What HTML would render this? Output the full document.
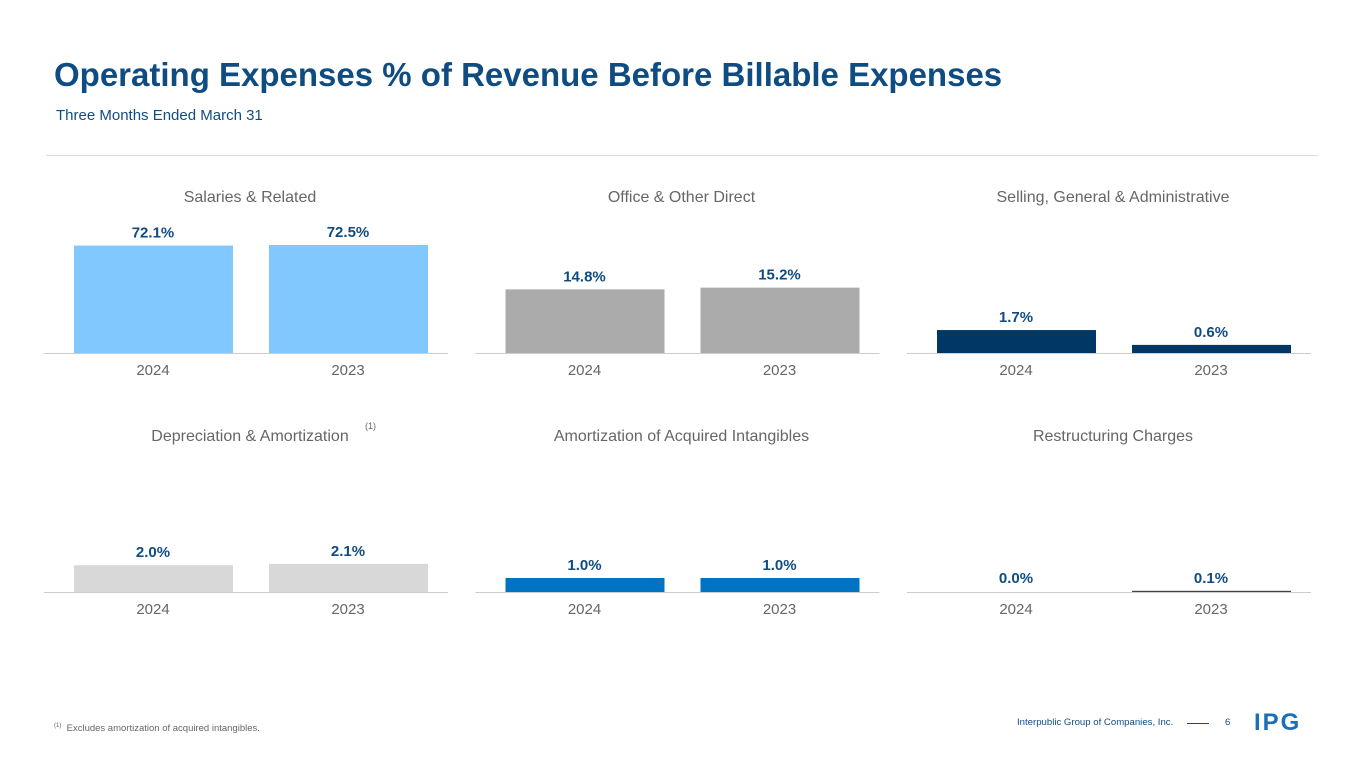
<!DOCTYPE html>
<html><head><meta charset="utf-8"><style>
body{margin:0;width:1365px;height:768px;background:#fff;font-family:"Liberation Sans",sans-serif;position:relative;overflow:hidden}
.abs{position:absolute}
</style></head><body>
<div class="abs" style="left:54px;top:56px;font-size:33px;font-weight:bold;color:#0f4c81;white-space:nowrap">Operating Expenses % of Revenue Before Billable Expenses</div>
<div class="abs" style="left:56px;top:107px;font-size:15px;color:#0f4c81">Three Months Ended March 31</div>
<div class="abs" style="left:46px;top:155px;width:1272px;height:1px;background:#ddd"></div>
<svg id="charts" class="abs" style="left:0;top:0" width="1365" height="768"></svg>
<div class="abs" style="left:54px;top:723px;font-size:9.5px;color:#666;white-space:nowrap"><sup style="font-size:6px">(1)</sup>&nbsp; Excludes amortization of acquired intangibles.</div>
<div class="abs" style="left:1017px;top:717px;font-size:9.6px;color:#0f4c81;white-space:nowrap">Interpublic Group of Companies, Inc.</div>
<div class="abs" style="left:1187px;top:723px;width:22px;height:1px;background:#0f4c81"></div>
<div class="abs" style="left:1225px;top:717px;font-size:9.6px;color:#0f4c81">6</div>
<div class="abs" style="left:1254px;top:709px;font-size:24px;font-weight:bold;color:#1a6fb8;letter-spacing:2px">IPG</div>
<script>
const titles=["Salaries & Related","Office & Other Direct","Selling, General & Administrative","Depreciation & Amortization","Amortization of Acquired Intangibles","Restructuring Charges"];
const years=["2024","2023"];
const v2024=[72.1,14.8,1.7,2.0,1.0,0.0];
const v2023=[72.5,15.2,0.6,2.1,1.0,0.1];
const labels2024=["72.1%","14.8%","1.7%","2.0%","1.0%","0.0%"];
const labels2023=["72.5%","15.2%","0.6%","2.1%","1.0%","0.1%"];
const colors=["#80c8fd","#ababab","#003865","#d8d8d8","#0073c2","#444"];
const scale=[1.49,4.3,13.5,13.4,14,12];
const svg=document.getElementById('charts');
const NS="http://www.w3.org/2000/svg";
function mk(t,a){const e=document.createElementNS(NS,t);for(const k in a)e.setAttribute(k,a[k]);svg.appendChild(e);return e;}
for(let i=0;i<6;i++){
 const ox=44+(i%3)*431.5, base=i<3?353:592, ty=i<3?202:441;
 let t=mk('text',{x:ox+206,y:ty,'text-anchor':'middle','font-size':16,fill:'#666'});t.textContent=titles[i];
 
 
 if(i===3){let s=mk('text',{x:ox+321,y:429,'font-size':9,fill:'#666'});s.textContent='(1)';
 
 }
 const vals=[v2024[i],v2023[i]],labs=[labels2024[i],labels2023[i]];
 for(let j=0;j<2;j++){
  const bx=ox+30+j*195, h=vals[j]*scale[i];
  const r=mk('rect',{x:bx,y:base-h,width:159,height:h,fill:colors[i]});
  
  
  const l=mk('text',{x:bx+79,y:base-Math.max(h,1)-8,'text-anchor':'middle','font-size':15,'font-weight':'bold',fill:'#0f4c81'});l.textContent=labs[j];
  
  
  const y=mk('text',{x:bx+79,y:base+22,'text-anchor':'middle','font-size':15,fill:'#666'});y.textContent=years[j];
  
  
 }
 const ax=mk('line',{x1:ox,x2:ox+404,y1:base+0.5,y2:base+0.5,stroke:'#ccc'});
 
 
}
</script>
</body></html>
